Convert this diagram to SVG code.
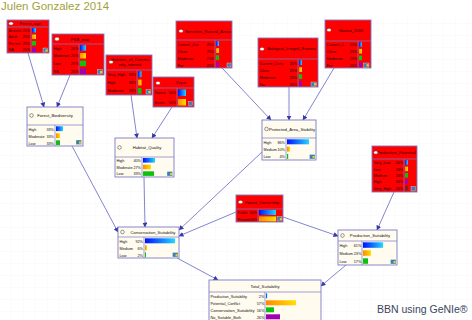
<svg xmlns="http://www.w3.org/2000/svg" width="472" height="320" viewBox="0 0 472 320">
<defs>
<style>
.nr{fill:#ff0000;stroke:#7a7ac8;stroke-width:0.9}
.nc{fill:#fffbef;stroke:#7a7ac8;stroke-width:0.9}
.sep{stroke:#7a7ac8;stroke-width:0.7}
.t{font-family:"Liberation Sans",Arial,sans-serif;font-size:3.8px;fill:#111}
.tc{font-family:"Liberation Sans",Arial,sans-serif;font-size:4.2px;fill:#111;text-anchor:middle}
.te{font-family:"Liberation Sans",Arial,sans-serif;font-size:3.8px;fill:#111;text-anchor:end}
.ew{fill:#fff;stroke:#555;stroke-width:0.3}
.ec{fill:none;stroke:#333;stroke-width:0.5}
.ic{fill:#3a7fb0;stroke:#fff;stroke-width:0.3}
.icy{fill:#e0d020}
.cn line{stroke:#6464c4;stroke-width:0.8;marker-end:url(#ah)}
.b{fill:url(#gb)}.o{fill:url(#go)}.g{fill:#10c010}.p{fill:#a000b0}.br{fill:#802020}
</style>
<linearGradient id="gb" x1="0" y1="0" x2="1" y2="0"><stop offset="0" stop-color="#0010ff"/><stop offset="1" stop-color="#20d8ff"/></linearGradient>
<linearGradient id="go" x1="0" y1="0" x2="1" y2="0"><stop offset="0" stop-color="#ff8a00"/><stop offset="1" stop-color="#ffe000"/></linearGradient>
<marker id="ah" viewBox="0 0 10 10" refX="9" refY="5" markerWidth="5" markerHeight="5" orient="auto" markerUnits="userSpaceOnUse"><path d="M0,0 L10,5 L0,10 z" fill="#3838a8"/></marker>
<pattern id="grid" width="12" height="12" patternUnits="userSpaceOnUse"><path d="M12,0 V12 H0" fill="none" stroke="#f4f4f4" stroke-width="0.6"/></pattern>
</defs>
<rect width="472" height="320" fill="#fff"/>
<rect x="0" y="18" width="472" height="302" fill="url(#grid)"/>
<text x="1" y="10" font-family="'Liberation Sans',Arial,sans-serif" font-size="11.5" fill="#a2a240">Julen Gonzalez 2014</text>

<g class="cn" id="connectors">
<line x1="28" y1="53" x2="44" y2="107"/>
<line x1="70" y1="75" x2="57" y2="107"/>
<line x1="131" y1="95" x2="137" y2="138"/>
<line x1="172" y1="107" x2="152" y2="138"/>
<line x1="222" y1="68" x2="271" y2="120"/>
<line x1="289" y1="87" x2="289" y2="120"/>
<line x1="334" y1="68" x2="303" y2="120"/>
<line x1="72" y1="146" x2="118" y2="232"/>
<line x1="144" y1="177" x2="145" y2="227"/>
<line x1="262" y1="152" x2="179" y2="230"/>
<line x1="236" y1="212" x2="179" y2="236"/>
<line x1="283" y1="217" x2="338" y2="236"/>
<line x1="394" y1="192" x2="377" y2="230"/>
<line x1="177" y1="258" x2="218" y2="280"/>
<line x1="346" y1="265" x2="321" y2="286"/>
</g>

<g id="forest_age">
<rect class="nr" x="7" y="20" width="42" height="33"/>
<line class="sep" x1="7" y1="27" x2="49" y2="27"/><line class="sep" x1="31" y1="27" x2="31" y2="53"/>
<ellipse class="ew" cx="11" cy="23.5" rx="2.2" ry="1.6"/>
<text class="tc" x="30" y="25">Forest_age</text>
<text class="t" x="8.5" y="31.8">Ancient</text><text class="te" x="30" y="31.8">25%</text><rect class="b" x="32" y="28" width="4" height="4.5"/>
<text class="t" x="8.5" y="38.3">Adult</text><text class="te" x="30" y="38.3">25%</text><rect class="o" x="32" y="34.5" width="4" height="4.5"/>
<text class="t" x="8.5" y="44.8">Recent</text><text class="te" x="30" y="44.8">25%</text><rect class="g" x="32" y="41" width="4" height="4.5"/>
<text class="t" x="8.5" y="51.3">NA</text><text class="te" x="30" y="51.3">25%</text><rect class="p" x="32" y="47.5" width="4" height="4.5"/>
<rect class="ic" x="43" y="48" width="4.5" height="4"/><rect class="icy" x="45.5" y="49.5" width="2" height="2"/>
</g>

<g id="psb_now">
<rect class="nr" x="52" y="34" width="52" height="41"/>
<line class="sep" x1="52" y1="44" x2="104" y2="44"/><line class="sep" x1="79" y1="44" x2="79" y2="75"/>
<ellipse class="ew" cx="57" cy="39" rx="2.3" ry="1.7"/>
<text class="tc" x="80" y="40.5">PSB_now</text>
<text class="t" x="53.5" y="49.5">High</text><text class="te" x="78.3" y="49.5">25%</text><rect class="b" x="80" y="45.2" width="6" height="5.5"/>
<text class="t" x="53.5" y="57.2">Moderate</text><text class="te" x="78.3" y="57.2">25%</text><rect class="o" x="80" y="53" width="6" height="5.5"/>
<text class="t" x="53.5" y="65">Low</text><text class="te" x="78.3" y="65">25%</text><rect class="g" x="80" y="60.7" width="6" height="5.5"/>
<text class="t" x="53.5" y="72.7">NA</text><text class="te" x="78.3" y="72.7">25%</text><rect class="p" x="80" y="68.5" width="6" height="5.5"/>
<rect class="ic" x="97.5" y="69.5" width="5" height="4.5"/><rect class="icy" x="100" y="71" width="2.2" height="2.2"/>
</g>

<g id="habitats_of_community_interest">
<rect class="nr" x="106" y="55" width="46" height="40"/>
<line class="sep" x1="106" y1="70" x2="152" y2="70"/><line class="sep" x1="137" y1="70" x2="137" y2="95"/>
<ellipse class="ew" cx="111" cy="62" rx="2.2" ry="1.6"/>
<text class="tc" x="130" y="61">Habitats_of_Commu</text>
<text class="tc" x="130" y="66">nity_interest</text>
<text class="t" x="107.5" y="75.5">Very_High</text><text class="te" x="136" y="75.5">33%</text><rect class="b" x="138" y="71.3" width="3.5" height="5.8"/>
<text class="t" x="107.5" y="83.8">High</text><text class="te" x="136" y="83.8">33%</text><rect class="o" x="138" y="79.6" width="3.5" height="5.8"/>
<text class="t" x="107.5" y="92.2">Moderate</text><text class="te" x="136" y="92.2">33%</text><rect class="g" x="138" y="88" width="3.5" height="5.8"/>
<rect class="ic" x="146" y="89.5" width="4.5" height="4.5"/><rect class="icy" x="148.3" y="91" width="2" height="2"/>
</g>

<g id="dryer">
<rect class="nr" x="153" y="77" width="41" height="30"/>
<line class="sep" x1="153" y1="88" x2="194" y2="88"/><line class="sep" x1="177" y1="88" x2="177" y2="107"/>
<ellipse class="ew" cx="158" cy="83" rx="2.2" ry="1.6"/>
<text class="tc" x="181" y="84.3">Dryer</text>
<text class="t" x="154.5" y="94">Native</text><text class="te" x="176" y="94">50%</text><rect class="b" x="178" y="89.5" width="8" height="6.5"/>
<text class="t" x="154.5" y="103.5">Exotic</text><text class="te" x="176" y="103.5">50%</text><rect class="o" x="178" y="99" width="8" height="6.5"/>
<rect class="ic" x="188.5" y="101.5" width="4" height="4"/>
</g>

<g id="sensitive_natural_areas">
<rect class="nr" x="176" y="21" width="56" height="47"/>
<line class="sep" x1="176" y1="40" x2="232" y2="40"/><line class="sep" x1="215" y1="40" x2="215" y2="68"/>
<ellipse class="ew" cx="181" cy="31" rx="2.2" ry="1.6"/>
<text class="tc" x="208" y="32.5">Sensitive_Natural_Areas</text>
<text class="t" x="177.5" y="45.5">Current_Cor</text><text class="te" x="214" y="45.5">25%</text><rect class="b" x="216" y="41.2" width="3" height="4.8"/>
<text class="t" x="177.5" y="52.5">Close</text><text class="te" x="214" y="52.5">25%</text><rect class="o" x="216" y="48.2" width="3" height="4.8"/>
<text class="t" x="177.5" y="59.5">Moderate</text><text class="te" x="214" y="59.5">25%</text><rect class="g" x="216" y="55.2" width="3" height="4.8"/>
<text class="t" x="177.5" y="66.5">Far</text><text class="te" x="214" y="66.5">25%</text><rect class="p" x="216" y="62.2" width="3" height="4.8"/>
<rect class="ic" x="227" y="63" width="4" height="4"/>
</g>

<g id="biological_integral_reserve">
<rect class="nr" x="258" y="38" width="60" height="49"/>
<line class="sep" x1="258" y1="59" x2="318" y2="59"/><line class="sep" x1="298" y1="59" x2="298" y2="87"/>
<ellipse class="ew" cx="262" cy="49" rx="2.2" ry="1.6"/>
<text class="t" x="267" y="50.3" textLength="49" lengthAdjust="spacingAndGlyphs">Biological_Integral_Reserve</text>
<text class="t" x="259.5" y="64.5">Current_Cons</text><text class="te" x="297" y="64.5">25%</text><rect class="b" x="299" y="60.2" width="3" height="4.8"/>
<text class="t" x="259.5" y="71.5">Close</text><text class="te" x="297" y="71.5">25%</text><rect class="o" x="299" y="67.2" width="3" height="4.8"/>
<text class="t" x="259.5" y="78.5">Moderate</text><text class="te" x="297" y="78.5">25%</text><rect class="g" x="299" y="74.2" width="3" height="4.8"/>
<text class="t" x="259.5" y="85.5">Far</text><text class="te" x="297" y="85.5">25%</text><rect class="p" x="299" y="81.2" width="3" height="4.8"/>
<rect class="ic" x="311" y="82" width="5.5" height="4.3"/><rect class="icy" x="314" y="83.2" width="2.2" height="2.2"/>
</g>

<g id="natura_2000">
<rect class="nr" x="325" y="20" width="46" height="48"/>
<line class="sep" x1="325" y1="41" x2="371" y2="41"/><line class="sep" x1="358" y1="41" x2="358" y2="68"/>
<ellipse class="ew" cx="329" cy="30" rx="2.2" ry="1.6"/>
<text class="tc" x="351" y="31.5">Natura_2000</text>
<text class="t" x="326.5" y="46.3">Current_C</text><text class="te" x="357" y="46.3">25%</text><rect class="b" x="359" y="42.2" width="3" height="4.6"/>
<text class="t" x="326.5" y="53">Close</text><text class="te" x="357" y="53">25%</text><rect class="o" x="359" y="48.9" width="3" height="4.6"/>
<text class="t" x="326.5" y="59.8">Moderate</text><text class="te" x="357" y="59.8">25%</text><rect class="g" x="359" y="55.6" width="3" height="4.6"/>
<text class="t" x="326.5" y="66.5">Far</text><text class="te" x="357" y="66.5">25%</text><rect class="p" x="359" y="62.4" width="3" height="4.6"/>
<rect class="ic" x="363.5" y="63" width="5.5" height="4.3"/><rect class="icy" x="366.5" y="64.2" width="2.2" height="2.2"/>
</g>

<g id="production_potential">
<rect class="nr" x="372" y="146" width="45" height="46"/>
<line class="sep" x1="372" y1="159" x2="417" y2="159"/><line class="sep" x1="404" y1="159" x2="404" y2="192"/>
<ellipse class="ew" cx="376" cy="152.5" rx="2.2" ry="1.6"/>
<text class="tc" x="396" y="154">Production_Potential</text>
<text class="t" x="373.5" y="164">Very_Low</text><text class="te" x="403" y="164">20%</text><rect class="b" x="405" y="160.2" width="3" height="4.6"/>
<text class="t" x="373.5" y="170.5">Low</text><text class="te" x="403" y="170.5">20%</text><rect class="o" x="405" y="166.6" width="3" height="4.6"/>
<text class="t" x="373.5" y="176.9">Medium</text><text class="te" x="403" y="176.9">20%</text><rect class="g" x="405" y="173" width="3" height="4.6"/>
<text class="t" x="373.5" y="183.3">High</text><text class="te" x="403" y="183.3">20%</text><rect class="p" x="405" y="179.4" width="3" height="4.6"/>
<text class="t" x="373.5" y="189.7">Very_High</text><text class="te" x="403" y="189.7">20%</text><rect class="br" x="405" y="185.8" width="3" height="4.6"/>
<rect class="ic" x="411" y="186.5" width="4.5" height="4.5"/>
</g>

<g id="forest_biodiversity">
<rect class="nc" x="27" y="107" width="56" height="39"/>
<line class="sep" x1="27" y1="125" x2="83" y2="125"/><line class="sep" x1="55" y1="125" x2="55" y2="146"/>
<circle class="ec" cx="31.5" cy="115.5" r="1.8"/>
<text class="tc" x="55" y="117">Forest_Biodiversity</text>
<text class="t" x="28.5" y="130.5">High</text><text class="te" x="54" y="130.5">33%</text><rect class="b" x="56" y="126.3" width="7" height="4.8"/>
<text class="t" x="28.5" y="137.5">Moderate</text><text class="te" x="54" y="137.5">33%</text><rect class="o" x="56" y="133.3" width="4" height="4.8"/>
<text class="t" x="28.5" y="144.5">Low</text><text class="te" x="54" y="144.5">33%</text><rect class="g" x="56" y="140.3" width="4" height="4.8"/>
<rect class="ic" x="76" y="140" width="5.5" height="4.5"/><rect class="icy" x="79" y="141.5" width="2.2" height="2.2"/>
</g>

<g id="habitat_quality">
<rect class="nc" x="115" y="138" width="59" height="39"/>
<line class="sep" x1="115" y1="157" x2="174" y2="157"/><line class="sep" x1="142" y1="157" x2="142" y2="177"/>
<circle class="ec" cx="119.5" cy="147.5" r="1.8"/>
<text class="tc" x="147" y="149">Habitat_Quality</text>
<text class="t" x="116.5" y="162">High</text><text class="te" x="141" y="162">40%</text><rect class="b" x="143" y="158" width="12" height="4.6"/>
<text class="t" x="116.5" y="168.7">Moderate</text><text class="te" x="141" y="168.7">27%</text><rect class="o" x="143" y="164.7" width="8" height="4.6"/>
<text class="t" x="116.5" y="175.3">Low</text><text class="te" x="141" y="175.3">33%</text><rect class="g" x="143" y="171.3" width="11" height="4.6"/>
<rect class="ic" x="167" y="171.5" width="5.5" height="4.5"/><rect class="icy" x="170" y="173" width="2.2" height="2.2"/>
</g>

<g id="protected_area_stability">
<rect class="nc" x="262" y="120" width="54" height="40"/>
<line class="sep" x1="262" y1="138" x2="316" y2="138"/><line class="sep" x1="286" y1="138" x2="286" y2="160"/>
<circle class="ec" cx="266.5" cy="129" r="1.8"/>
<text class="tc" x="292" y="130.5">Protected_Area_Stability</text>
<text class="t" x="263.5" y="143.5">High</text><text class="te" x="285" y="143.5">86%</text><rect class="b" x="287" y="139.3" width="22" height="5"/>
<text class="t" x="263.5" y="150.8">Medium</text><text class="te" x="285" y="150.8">10%</text><rect class="o" x="287" y="146.6" width="3" height="5"/>
<text class="t" x="263.5" y="158.1">Low</text><text class="te" x="285" y="158.1">4%</text><rect class="g" x="287" y="153.9" width="1.2" height="5"/>
<rect class="ic" x="309.5" y="154.5" width="5.5" height="4.5"/><rect class="icy" x="312.5" y="156" width="2.2" height="2.2"/>
</g>

<g id="forest_ownership">
<rect class="nr" x="236" y="195" width="47" height="27"/>
<line class="sep" x1="236" y1="209" x2="283" y2="209"/><line class="sep" x1="258" y1="209" x2="258" y2="222"/>
<ellipse class="ew" cx="240.5" cy="202" rx="2.2" ry="1.6"/>
<text class="tc" x="262" y="203.5">Forest_Ownership</text>
<text class="t" x="237.5" y="214">Public</text><text class="te" x="257" y="214">50%</text><rect class="b" x="259" y="210" width="17" height="5"/>
<text class="t" x="237.5" y="220.5">Private</text><text class="te" x="257" y="220.5">50%</text><rect class="o" x="259" y="216.4" width="17" height="5"/>
<rect class="ic" x="277" y="216.5" width="5" height="4.5"/><rect class="icy" x="279.8" y="218" width="2" height="2"/>
</g>

<g id="conservation_suitability">
<rect class="nc" x="118" y="227" width="61" height="31"/>
<line class="sep" x1="118" y1="237" x2="179" y2="237"/><line class="sep" x1="144" y1="237" x2="144" y2="258"/>
<circle class="ec" cx="122.5" cy="232" r="1.8"/>
<text class="tc" x="153" y="233.5">Conservation_Suitability</text>
<text class="t" x="119.5" y="242.5">High</text><text class="te" x="143" y="242.5">92%</text><rect class="b" x="145" y="238.3" width="30" height="5"/>
<text class="t" x="119.5" y="249.5">Medium</text><text class="te" x="143" y="249.5">6%</text><rect class="o" x="145" y="245.3" width="2" height="5"/>
<text class="t" x="119.5" y="256.5">Low</text><text class="te" x="143" y="256.5">2%</text><rect class="g" x="145" y="252.3" width="1" height="5"/>
<rect class="ic" x="172.5" y="252.5" width="5.5" height="4.5"/><rect class="icy" x="175.5" y="254" width="2.2" height="2.2"/>
</g>

<g id="production_suitability">
<rect class="nc" x="338" y="230" width="59" height="35"/>
<line class="sep" x1="338" y1="241" x2="397" y2="241"/><line class="sep" x1="362" y1="241" x2="362" y2="265"/>
<circle class="ec" cx="342.5" cy="235.5" r="1.8"/>
<text class="tc" x="370" y="237">Production_Suitability</text>
<text class="t" x="339.5" y="246.5">High</text><text class="te" x="361.3" y="246.5">61%</text><rect class="b" x="363" y="242.3" width="20" height="5.5"/>
<text class="t" x="339.5" y="254.5">Medium</text><text class="te" x="361.3" y="254.5">23%</text><rect class="o" x="363" y="250.3" width="8" height="5.5"/>
<text class="t" x="339.5" y="262.5">Low</text><text class="te" x="361.3" y="262.5">17%</text><rect class="g" x="363" y="258.3" width="5" height="5.5"/>
<rect class="ic" x="390.5" y="259.5" width="5.5" height="4.5"/><rect class="icy" x="393.5" y="261" width="2.2" height="2.2"/>
</g>

<g id="total_suitability">
<rect class="nc" x="209" y="280" width="112" height="45"/>
<line class="sep" x1="209" y1="292" x2="321" y2="292"/><line class="sep" x1="265" y1="292" x2="265" y2="325"/>
<text class="tc" x="265" y="288">Total_Suitability</text>
<text class="t" x="210.5" y="297.5">Production_Suitability</text><text class="te" x="264.3" y="297.5">2%</text><rect class="b" x="266" y="293.3" width="1.2" height="5"/>
<text class="t" x="210.5" y="304.5">Potential_Conflict</text><text class="te" x="264.3" y="304.5">57%</text><rect class="o" x="266" y="300.3" width="30" height="5"/>
<text class="t" x="210.5" y="311.5" textLength="44" lengthAdjust="spacingAndGlyphs">Conservation_Suitability</text><text class="te" x="264.3" y="311.5">16%</text><rect class="g" x="266" y="307.3" width="8" height="5"/>
<text class="t" x="210.5" y="318.5">No_Suitable_Both</text><text class="te" x="264.3" y="318.5">26%</text><rect class="p" x="266" y="314.3" width="14" height="5"/>
</g>

<text x="377" y="313" font-family="'Liberation Sans',Arial,sans-serif" font-size="10.5" fill="#3a4660">BBN using GeNIe®</text>
</svg>
